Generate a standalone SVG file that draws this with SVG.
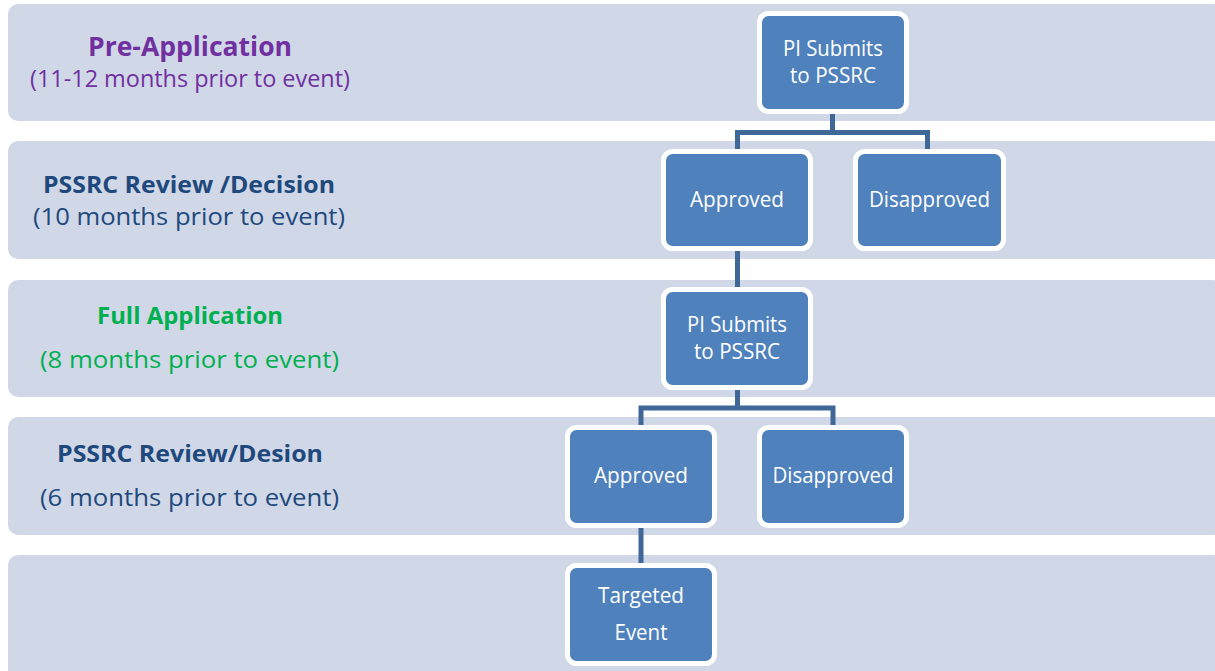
<svg xmlns="http://www.w3.org/2000/svg" width="1215" height="671" viewBox="0 0 1215 671">
<style>
.band{fill:#d0d8e8;}
.node rect{fill:#4f81bd;stroke:#ffffff;stroke-width:5;}
.node text{font-family:"Open Sans","Liberation Sans",sans-serif;font-size:21px;fill:#ffffff;text-anchor:middle;}
.conn{fill:none;stroke:#3f6898;stroke-width:5;stroke-linejoin:miter;}
.title{font-family:"Open Sans","Liberation Sans",sans-serif;font-weight:bold;font-size:24px;text-anchor:middle;}
.big{font-size:26px;}
.sub{font-family:"Open Sans","Liberation Sans",sans-serif;font-size:24px;text-anchor:middle;}
.purple{fill:#7030a0;}
.navy{fill:#1f497d;}
.green{fill:#00b050;}
</style>
<rect width="1215" height="671" fill="#ffffff"/>
<g id="bands">
<rect class="band" x="8" y="4" width="1215" height="117" rx="10"/>
<rect class="band" x="8" y="141" width="1215" height="118" rx="10"/>
<rect class="band" x="8" y="280" width="1215" height="117" rx="10"/>
<rect class="band" x="8" y="417" width="1215" height="118" rx="10"/>
<rect class="band" x="8" y="555" width="1215" height="130" rx="10"/>
</g>
<g id="band-labels">
<text class="title big purple" x="190" y="56" textLength="204" lengthAdjust="spacingAndGlyphs">Pre-Application</text>
<text class="sub purple" x="190" y="87" textLength="320" lengthAdjust="spacingAndGlyphs">(11-12 months prior to event)</text>
<text class="title navy" x="189" y="193" textLength="292" lengthAdjust="spacingAndGlyphs">PSSRC Review /Decision</text>
<text class="sub navy" x="189" y="225" textLength="312" lengthAdjust="spacingAndGlyphs">(10 months prior to event)</text>
<text class="title green" x="190" y="324" textLength="186" lengthAdjust="spacingAndGlyphs">Full Application</text>
<text class="sub green" x="189.5" y="368" textLength="299" lengthAdjust="spacingAndGlyphs">(8 months prior to event)</text>
<text class="title navy" x="190" y="462" textLength="266" lengthAdjust="spacingAndGlyphs">PSSRC Review/Desion</text>
<text class="sub navy" x="189.5" y="506" textLength="299" lengthAdjust="spacingAndGlyphs">(6 months prior to event)</text>
</g>
<g id="connectors">
<path class="conn" d="M832.5,112 V132.5 M737.5,150 V132.5 H927.5 V150"/>
<path class="conn" d="M737.5,249 V289"/>
<path class="conn" d="M737.5,388 V408 M641,427 V408 H833 V427"/>
<path class="conn" d="M641,526 V565"/>
</g>
<g id="pi-submits-1" class="node">
<rect x="759.5" y="13.5" width="147" height="98" rx="9"/>
<text x="833" y="56" textLength="100" lengthAdjust="spacingAndGlyphs">PI Submits</text>
<text x="833" y="83" textLength="86" lengthAdjust="spacingAndGlyphs">to PSSRC</text>
</g>
<g id="approved-1" class="node">
<rect x="663.5" y="151.5" width="147" height="97" rx="9"/>
<text x="737" y="207" textLength="94" lengthAdjust="spacingAndGlyphs">Approved</text>
</g>
<g id="disapproved-1" class="node">
<rect x="855.5" y="151.5" width="148" height="97" rx="9"/>
<text x="929.5" y="207" textLength="121" lengthAdjust="spacingAndGlyphs">Disapproved</text>
</g>
<g id="pi-submits-2" class="node">
<rect x="663.5" y="289.5" width="147" height="98" rx="9"/>
<text x="737" y="332" textLength="100" lengthAdjust="spacingAndGlyphs">PI Submits</text>
<text x="737" y="359" textLength="86" lengthAdjust="spacingAndGlyphs">to PSSRC</text>
</g>
<g id="approved-2" class="node">
<rect x="567.5" y="427.5" width="147" height="98" rx="9"/>
<text x="641" y="483" textLength="94" lengthAdjust="spacingAndGlyphs">Approved</text>
</g>
<g id="disapproved-2" class="node">
<rect x="759.5" y="427.5" width="147" height="98" rx="9"/>
<text x="833" y="483" textLength="121" lengthAdjust="spacingAndGlyphs">Disapproved</text>
</g>
<g id="targeted-event" class="node">
<rect x="567.5" y="565.5" width="147" height="98" rx="9"/>
<text x="641" y="603" textLength="86" lengthAdjust="spacingAndGlyphs">Targeted</text>
<text x="641" y="640" textLength="53" lengthAdjust="spacingAndGlyphs">Event</text>
</g>
</svg>
